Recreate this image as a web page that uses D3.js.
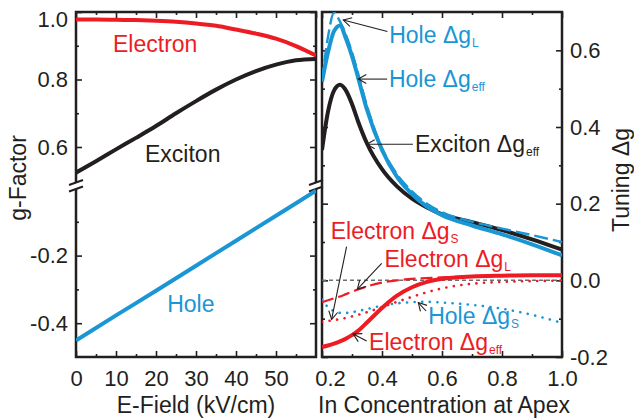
<!DOCTYPE html>
<html>
<head>
<meta charset="utf-8">
<script src="https://cdn.jsdelivr.net/npm/d3@7"></script>
<style>
  body { margin: 0; background: #fff; }
  svg { display: block; }
</style>
</head>
<body>
<div class="container"></div>
<script>
// ---- Data ----
// Left panel: g-factor vs electric field
const eField = [0, 5, 10, 15, 20, 25, 30, 35, 40, 45, 50, 55, 60];
const electronG = [0.978, 0.978, 0.977, 0.976, 0.974, 0.971, 0.966, 0.959, 0.948, 0.936, 0.921, 0.899, 0.871];
const excitonG = [0.524, 0.558, 0.593, 0.627, 0.662, 0.700, 0.736, 0.770, 0.800, 0.825, 0.844, 0.857, 0.861];
const holeField = [0, 10, 20, 30, 40, 50, 60];
const holeG = [-0.451, -0.377, -0.304, -0.230, -0.156, -0.082, -0.008];

// Right panel: tuning vs In concentration at apex
const inConc = [0.2, 0.22, 0.24, 0.26, 0.28, 0.3, 0.32, 0.35, 0.4, 0.45, 0.5, 0.55, 0.6, 0.7, 0.8, 0.9, 1.0];
const holeDgEff = [0.518, 0.595, 0.650, 0.665, 0.630, 0.585, 0.530, 0.445, 0.340, 0.270, 0.225, 0.192, 0.170, 0.143, 0.120, 0.094, 0.065];
const holeDgL = [0.520, 0.635, 0.698, 0.675, 0.640, 0.595, 0.540, 0.455, 0.345, 0.277, 0.232, 0.200, 0.178, 0.153, 0.135, 0.118, 0.100];
const holeDgS = [-0.050, -0.070, -0.080, -0.085, -0.085, -0.083, -0.080, -0.075, -0.066, -0.060, -0.057, -0.056, -0.058, -0.064, -0.074, -0.090, -0.111];
const excitonDgEff = [0.340, 0.440, 0.495, 0.510, 0.495, 0.460, 0.415, 0.357, 0.290, 0.245, 0.213, 0.190, 0.172, 0.152, 0.131, 0.107, 0.080];
const electronDgEff = [-0.174, -0.170, -0.165, -0.159, -0.152, -0.143, -0.132, -0.110, -0.072, -0.040, -0.018, -0.004, 0.004, 0.010, 0.012, 0.013, 0.013];
const electronDgL = [-0.057, -0.052, -0.047, -0.042, -0.036, -0.030, -0.024, -0.016, -0.006, 0.000, 0.004, 0.006, 0.008, 0.010, 0.012, 0.013, 0.013];
const electronDgS = [-0.108, -0.106, -0.104, -0.101, -0.098, -0.094, -0.090, -0.083, -0.070, -0.056, -0.043, -0.031, -0.021, -0.009, -0.004, -0.002, -0.001];

// Tick values
const leftXMajor = [0, 10, 20, 30, 40, 50];
const leftXMinor = [5, 15, 25, 35, 45, 55];
const upperMajor = [0.6, 0.8, 1.0];
const upperMinor = [0.7, 0.9];
const lowerMajor = [-0.4, -0.2];
const lowerMinor = [-0.3, -0.1];
const rightXMajor = [0.2, 0.4, 0.6, 0.8, 1.0];
const rightXMinor = [0.3, 0.5, 0.7, 0.9];
const rightYMajor = [-0.2, 0.0, 0.2, 0.4, 0.6];
const rightYMinor = [-0.1, 0.1, 0.3, 0.5];

// ---- Constants ----
const width = 634;
const height = 418;
const panelTop = 12;
const panelBottom = 357;
const breakHi = 182.5;
const breakLo = 189;
const FONT = '"Liberation Sans", Arial, Helvetica, sans-serif';
const INK = '#231f20';
const RED = '#ed1c24';
const BLUE = '#1a96d5';

const xLeft = d3.scaleLinear().domain([0, 60]).range([76, 316]);
const yUpper = d3.scaleLinear().domain([0.6, 1.0]).range([147, panelTop]);
const yLower = d3.scaleLinear().domain([-0.5, 0]).range([panelBottom, 188]);
const xRight = d3.scaleLinear().domain([0.2, 1.0]).range([322, 562]);
const yRight = d3.scaleLinear().domain([-0.2, 0.7]).range([panelBottom, panelTop]);

const svg = d3
  .select('.container')
  .append('svg')
  .attr('width', width)
  .attr('height', height)
  .attr('font-family', FONT)
  .attr('fill', INK);

const defs = svg.append('defs');
defs.append('clipPath').attr('id', 'clip-upper')
  .append('rect').attr('x', 76).attr('y', panelTop).attr('width', 240).attr('height', breakHi - panelTop);
defs.append('clipPath').attr('id', 'clip-lower')
  .append('rect').attr('x', 76).attr('y', breakLo).attr('width', 240).attr('height', panelBottom - breakLo);
defs.append('clipPath').attr('id', 'clip-right')
  .append('rect').attr('x', 322).attr('y', panelTop).attr('width', 240).attr('height', panelBottom - panelTop);
defs.append('marker')
  .attr('id', 'arrow')
  .attr('markerUnits', 'userSpaceOnUse')
  .attr('viewBox', '-10 -6 12 12')
  .attr('refX', 0).attr('refY', 0)
  .attr('markerWidth', 12).attr('markerHeight', 12)
  .attr('orient', 'auto')
  .append('path')
  .attr('d', 'M-8,-4.5 L0,0 L-8,4.5')
  .attr('fill', 'none')
  .attr('stroke', INK)
  .attr('stroke-width', 1.1);

// ---- Axes helper ----
const styleAxis = (g) => {
  g.attr('font-family', FONT).attr('font-size', 22).attr('color', INK);
  g.select('.domain').remove();
  g.selectAll('line').attr('stroke-width', 1.6);
  return g;
};

const addAxis = (axisFn, scale, values, size, pos, labels, padding) => {
  const axis = axisFn(scale)
    .tickValues(values)
    .tickSizeInner(-size)
    .tickSizeOuter(0)
    .tickPadding(padding || 8)
    .tickFormat(labels ? labels : () => '');
  return svg.append('g').attr('transform', pos).call(axis).call(styleAxis);
};

const fmt1 = (d) => d.toFixed(1);

// Left panel axes
addAxis(d3.axisBottom, xLeft, leftXMajor, 6, `translate(0,${panelBottom})`, (d) => d, 13);
addAxis(d3.axisBottom, xLeft, leftXMinor, 3, `translate(0,${panelBottom})`);
addAxis(d3.axisTop, xLeft, leftXMajor.concat([60]), 6, `translate(0,${panelTop})`);
addAxis(d3.axisTop, xLeft, leftXMinor, 3, `translate(0,${panelTop})`);
const upperAxis = addAxis(d3.axisLeft, yUpper, upperMajor, 6, 'translate(76,0)', fmt1);
upperAxis.selectAll('text').filter((d) => d === 1.0).attr('dy', '0.66em');
addAxis(d3.axisLeft, yUpper, upperMinor, 3, 'translate(76,0)');
addAxis(d3.axisLeft, yLower, lowerMajor, 6, 'translate(76,0)', fmt1);
addAxis(d3.axisLeft, yLower, lowerMinor, 3, 'translate(76,0)');
addAxis(d3.axisRight, yUpper, upperMajor, 6, 'translate(316,0)');
addAxis(d3.axisRight, yUpper, upperMinor, 3, 'translate(316,0)');
addAxis(d3.axisRight, yLower, lowerMajor, 6, 'translate(316,0)');
addAxis(d3.axisRight, yLower, lowerMinor, 3, 'translate(316,0)');

// Right panel axes
const rightBottom = addAxis(d3.axisBottom, xRight, rightXMajor, 6, `translate(0,${panelBottom})`, fmt1, 13);
rightBottom.selectAll('text').filter((d) => d === 0.2).attr('dx', 8);
addAxis(d3.axisBottom, xRight, rightXMinor, 3, `translate(0,${panelBottom})`);
addAxis(d3.axisTop, xRight, rightXMajor, 6, `translate(0,${panelTop})`);
addAxis(d3.axisTop, xRight, rightXMinor, 3, `translate(0,${panelTop})`);
addAxis(d3.axisRight, yRight, rightYMajor, 6, 'translate(562,0)', fmt1);
addAxis(d3.axisRight, yRight, rightYMinor, 3, 'translate(562,0)');
addAxis(d3.axisLeft, yRight, rightYMajor, 6, 'translate(322,0)');
addAxis(d3.axisLeft, yRight, rightYMinor, 3, 'translate(322,0)');

// ---- Frames ----
const frame = svg.append('g').attr('fill', 'none').attr('stroke', INK).attr('stroke-width', 2.5);
frame.append('path').attr('d', [
  `M${xLeft(0)},${panelTop}H${xLeft(60)}`,
  `M${xLeft(0)},${panelBottom}H${xLeft(60)}`,
  `M${xLeft(0)},${panelTop - 1.25}V${breakHi}M${xLeft(0)},${breakLo}V${panelBottom + 1.25}`,
  `M${xLeft(60)},${panelTop - 1.25}V${breakHi}M${xLeft(60)},${breakLo}V${panelBottom + 1.25}`,
].join(''));
[xLeft(0), xLeft(60)].forEach((x) => {
  [breakHi, breakLo].forEach((y) => {
    frame.append('line')
      .attr('x1', x - 7).attr('y1', y + 2.5)
      .attr('x2', x + 7).attr('y2', y - 2.5)
      .attr('stroke-width', 2);
  });
});
frame.append('rect')
  .attr('x', xRight(0.2)).attr('y', panelTop)
  .attr('width', xRight(1.0) - xRight(0.2))
  .attr('height', panelBottom - panelTop);

// ---- Curves ----
const drawLine = (xs, ys, xScale, yScale, clip, color, widthPx, dash) => {
  const line = d3.line()
    .x((d) => xScale(d[0]))
    .y((d) => yScale(d[1]))
    .curve(d3.curveMonotoneX);
  svg.append('path')
    .datum(d3.zip(xs, ys))
    .attr('clip-path', `url(#${clip})`)
    .attr('fill', 'none')
    .attr('stroke', color)
    .attr('stroke-width', widthPx)
    .attr('stroke-linecap', dash === 'dot' ? 'round' : 'butt')
    .attr('stroke-dasharray', dash === 'dot' ? '0.1,7.5' : dash)
    .attr('d', line);
};

// Left panel
drawLine(eField, electronG, xLeft, yUpper, 'clip-upper', RED, 4, null);
drawLine(eField, excitonG, xLeft, yUpper, 'clip-upper', INK, 4, null);
drawLine(holeField, holeG, xLeft, yLower, 'clip-lower', BLUE, 4, null);

// Right panel
svg.append('line')
  .attr('x1', xRight(0.2)).attr('x2', xRight(1.0))
  .attr('y1', yRight(0)).attr('y2', yRight(0))
  .attr('stroke', '#6d6e71')
  .attr('stroke-width', 1.5)
  .attr('stroke-dasharray', '4,3');

drawLine(inConc, electronDgS, xRight, yRight, 'clip-right', RED, 2.6, 'dot');
drawLine(inConc, holeDgS, xRight, yRight, 'clip-right', BLUE, 2.6, 'dot');
drawLine(inConc, electronDgL, xRight, yRight, 'clip-right', RED, 2.2, '12,5');
drawLine(inConc, excitonDgEff, xRight, yRight, 'clip-right', INK, 4, null);
drawLine(inConc, holeDgEff, xRight, yRight, 'clip-right', BLUE, 4, null);
drawLine(inConc, holeDgL, xRight, yRight, 'clip-right', BLUE, 2.4, '14,5');
drawLine(inConc, electronDgEff, xRight, yRight, 'clip-right', RED, 4, null);

// ---- Labels ----
const label = (x, y, text, sub, color) => {
  const t = svg.append('text')
    .attr('x', x).attr('y', y)
    .attr('font-size', 23)
    .attr('fill', color)
    .text(text);
  if (sub) {
    t.append('tspan').attr('font-size', 12).attr('dy', 4).attr('dx', 1).text(sub);
  }
};

label(xLeft(9.25), yUpper(0.882), 'Electron', null, RED);
label(xLeft(17.25), yUpper(0.555), 'Exciton', null, INK);
label(xLeft(22.8), yLower(-0.366), 'Hole', null, BLUE);

const annotations = [
  { text: 'Hole \u0394g', sub: 'L', color: BLUE, at: [0.424, 0.620], from: [0.418, 0.649], to: [0.271, 0.679] },
  { text: 'Hole \u0394g', sub: 'eff', color: BLUE, at: [0.423, 0.504], from: [0.417, 0.525], to: [0.321, 0.525] },
  { text: 'Exciton \u0394g', sub: 'eff', color: INK, at: [0.510, 0.336], from: [0.503, 0.355], to: [0.349, 0.355] },
  { text: 'Electron \u0394g', sub: 'S', color: RED, at: [0.229, 0.107], from: [0.282, 0.088], to: [0.232, -0.102] },
  { text: 'Electron \u0394g', sub: 'L', color: RED, at: [0.408, 0.035], from: [0.399, 0.044], to: [0.318, -0.023] },
  { text: 'Hole \u0394g', sub: 'S', color: BLUE, at: [0.554, -0.115], from: [0.547, -0.080], to: [0.521, -0.058] },
  { text: 'Electron \u0394g', sub: 'eff', color: RED, at: [0.357, -0.183], from: [0.349, -0.158], to: [0.304, -0.140] },
];

annotations.forEach((a) => {
  svg.append('line')
    .attr('x1', xRight(a.from[0])).attr('y1', yRight(a.from[1]))
    .attr('x2', xRight(a.to[0])).attr('y2', yRight(a.to[1]))
    .attr('stroke', INK)
    .attr('stroke-width', 1.1)
    .attr('marker-end', 'url(#arrow)');
  label(xRight(a.at[0]), yRight(a.at[1]), a.text, a.sub, a.color);
});

// Axis titles
svg.append('text')
  .attr('x', (xLeft(0) + xLeft(60)) / 2).attr('y', 413)
  .attr('text-anchor', 'middle').attr('font-size', 23)
  .text('E-Field (kV/cm)');
svg.append('text')
  .attr('x', 444).attr('y', 413)
  .attr('text-anchor', 'middle').attr('font-size', 23)
  .text('In Concentration at Apex');
svg.append('text')
  .attr('transform', 'translate(26,178) rotate(-90)')
  .attr('text-anchor', 'middle').attr('font-size', 23)
  .text('g-Factor');
svg.append('text')
  .attr('transform', 'translate(629,180) rotate(-90)')
  .attr('text-anchor', 'middle').attr('font-size', 23)
  .text('Tuning \u0394g');
</script>
</body>
</html>
